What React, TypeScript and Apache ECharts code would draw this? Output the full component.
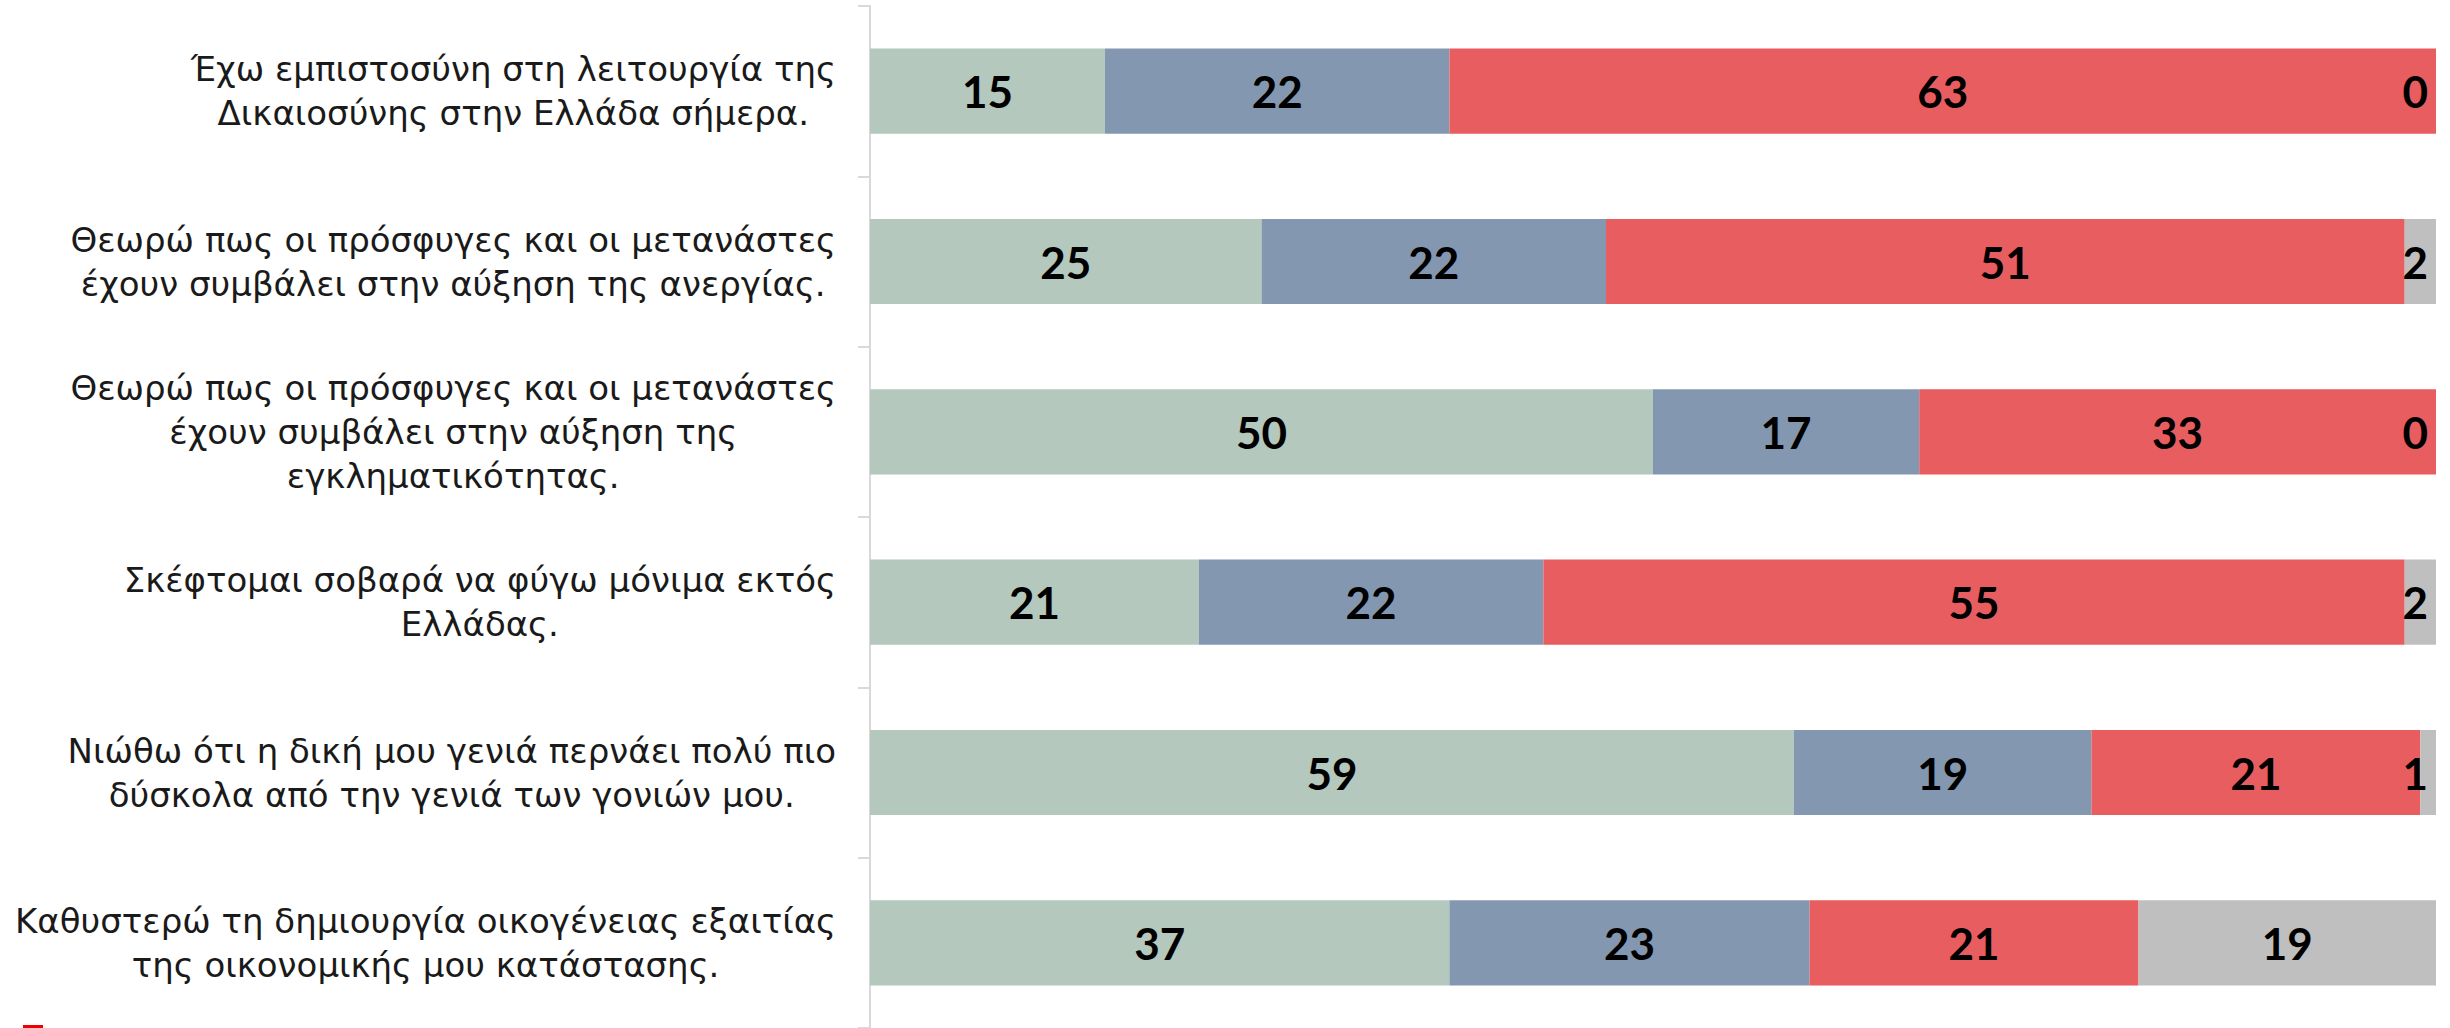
import React, { useEffect, useRef } from "react";
import * as echarts from "echarts";

const categories = [
  "Έχω εμπιστοσύνη στη λειτουργία της\nΔικαιοσύνης στην Ελλάδα σήμερα.",
  "Θεωρώ πως οι πρόσφυγες και οι μετανάστες\nέχουν συμβάλει στην αύξηση της ανεργίας.",
  "Θεωρώ πως οι πρόσφυγες και οι μετανάστες\nέχουν συμβάλει στην αύξηση της\nεγκληματικότητας.",
  "Σκέφτομαι σοβαρά να φύγω μόνιμα εκτός\nΕλλάδας.",
  "Νιώθω ότι η δική μου γενιά περνάει πολύ πιο\nδύσκολα από την γενιά των γονιών μου.",
  "Καθυστερώ τη δημιουργία οικογένειας εξαιτίας\nτης οικονομικής μου κατάστασης.",
];

const seriesNames = ["Συμφωνώ", "Ούτε συμφωνώ ούτε διαφωνώ", "Διαφωνώ", "ΔΞ/ΔΑ"];
const agreeValues = [15, 25, 50, 21, 59, 37];
const neutralValues = [22, 22, 17, 22, 19, 23];
const disagreeValues = [63, 51, 33, 55, 21, 21];
const unknownValues = [0, 2, 0, 2, 1, 19];

const seriesColors = ["#B4C8BE", "#8497B0", "#E85D5F", "#BFBFBF"];

const W = 2450;
const H = 1028;
const GRID_LEFT = 870;
const GRID_RIGHT = 14;
const GRID_TOP = 6;
const GRID_HEIGHT = 1023;

export default function App() {
  const ref = useRef<HTMLDivElement>(null);

  useEffect(() => {
    document.body.style.margin = "0";
    if (!ref.current) return;
    const chart = echarts.init(ref.current, undefined, { renderer: "svg" });
    const plotRight = W - GRID_RIGHT;
    const allValues = [agreeValues, neutralValues, disagreeValues, unknownValues];

    const option: any = {
      animation: false,
      backgroundColor: "#ffffff",
      grid: {
        left: GRID_LEFT,
        right: GRID_RIGHT,
        top: GRID_TOP,
        height: GRID_HEIGHT,
        containLabel: false,
      },
      xAxis: {
        type: "value",
        min: 0,
        max: 100,
        show: false,
      },
      yAxis: {
        type: "category",
        inverse: true,
        data: categories,
        axisLine: { show: true, lineStyle: { color: "#D9D9D9", width: 2 } },
        axisTick: { show: true, length: 12, lineStyle: { color: "#D9D9D9", width: 2 } },
        axisLabel: {
          interval: 0,
          margin: 34,
          formatter: (v: string) =>
            v
              .split("\n")
              .map((l) => `{c|${l}}`)
              .join("\n"),
          rich: {
            c: {
              align: "center",
              fontFamily: "DejaVu Sans",
              fontSize: 34,
              lineHeight: 44,
              color: "#1a1a1a",
            },
          },
        },
      },
      series: allValues.map((vals, i) => ({
        name: seriesNames[i],
        type: "bar",
        stack: "total",
        barWidth: "50%",
        data: vals,
        itemStyle: { color: seriesColors[i] },
        label: {
          show: true,
          position: "inside",
          formatter: "{c}",
          color: "#000000",
          fontFamily: "Lato",
          fontWeight: "bold",
          fontSize: 44,
        },
        labelLayout: (p: any) => {
          const r = p.labelRect;
          const over = r.x + r.width - (plotRight - 8);
          return over > 0 ? { dx: -over } : {};
        },
      })),
      graphic: [
        {
          type: "rect",
          left: 23,
          top: 1025,
          shape: { width: 20, height: 4 },
          style: { fill: "#F00000" },
        },
      ],
    };

    chart.setOption(option);
    return () => chart.dispose();
  }, []);

  return <div ref={ref} style={{ width: W, height: H }} />;
}
